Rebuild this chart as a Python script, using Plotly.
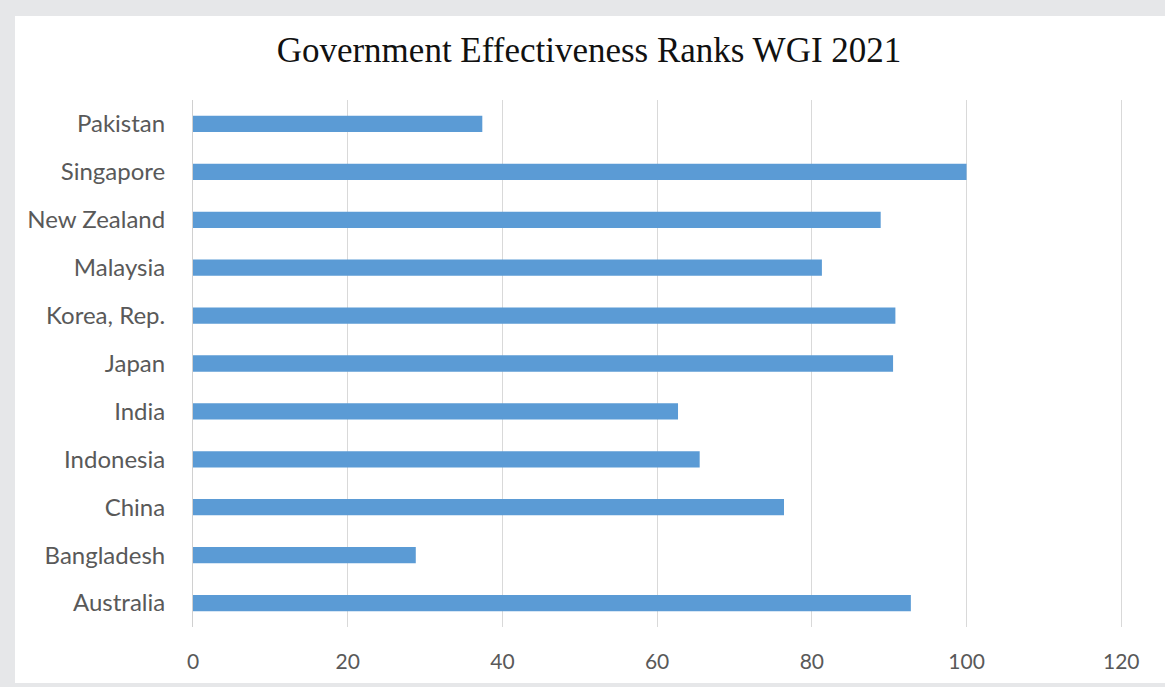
import plotly.graph_objects as go

# Government Effectiveness percentile ranks, WGI 2021
countries = ["Australia", "Bangladesh", "China", "Indonesia", "India", "Japan",
             "Korea, Rep.", "Malaysia", "New Zealand", "Singapore", "Pakistan"]
ranks = [92.8, 28.8, 76.4, 65.5, 62.7, 90.5, 90.8, 81.3, 88.9, 100.0, 37.4]
x_ticks = [0, 20, 40, 60, 80, 100, 120]

W, H = 1165, 687
L, R, T, B = 193, 36, 100, 60
pw, ph = W - L - R, H - T - B


def px_x(x):
    return (x - L) / pw


def px_y(y):
    return (H - B - y) / ph


fig = go.Figure(go.Bar(
    y=countries, x=ranks, orientation="h",
    marker=dict(color="#5b9bd5", line=dict(width=0)),
    hoverinfo="x+y",
))

fig.update_layout(
    width=W, height=H,
    margin=dict(l=L, r=R, t=T, b=B),
    paper_bgcolor="#e6e7e9",
    plot_bgcolor="white",
    bargap=0.66,
    showlegend=False,
    title=dict(
        text="Government Effectiveness Ranks WGI 2021",
        x=589 / W, xanchor="center", xref="container",
        y=1 - 50 / H, yanchor="middle",
        font=dict(family="Liberation Serif", size=35, color="#111111"),
    ),
    xaxis=dict(
        range=[0, 121], tickvals=x_ticks, ticktext=[str(v) for v in x_ticks],
        showgrid=True, gridcolor="#d9d9d9", gridwidth=1,
        zeroline=False, showline=False, ticks="",
        tickfont=dict(family="Lato", size=21, color="#595959"),
        ticklabelstandoff=20,
    ),
    yaxis=dict(
        showgrid=False, zeroline=False,
        showline=True, linecolor="#d0d0d0", linewidth=1,
        ticks="", ticklabelstandoff=22,
        tickfont=dict(family="Lato", size=24, color="#595959"),
    ),
    shapes=[
        dict(type="rect", xref="paper", yref="paper", layer="below",
             x0=px_x(15), x1=px_x(W + 5), y0=px_y(683), y1=px_y(16),
             fillcolor="white", line=dict(width=0)),
    ],
)

fig.write_html("out.html")
